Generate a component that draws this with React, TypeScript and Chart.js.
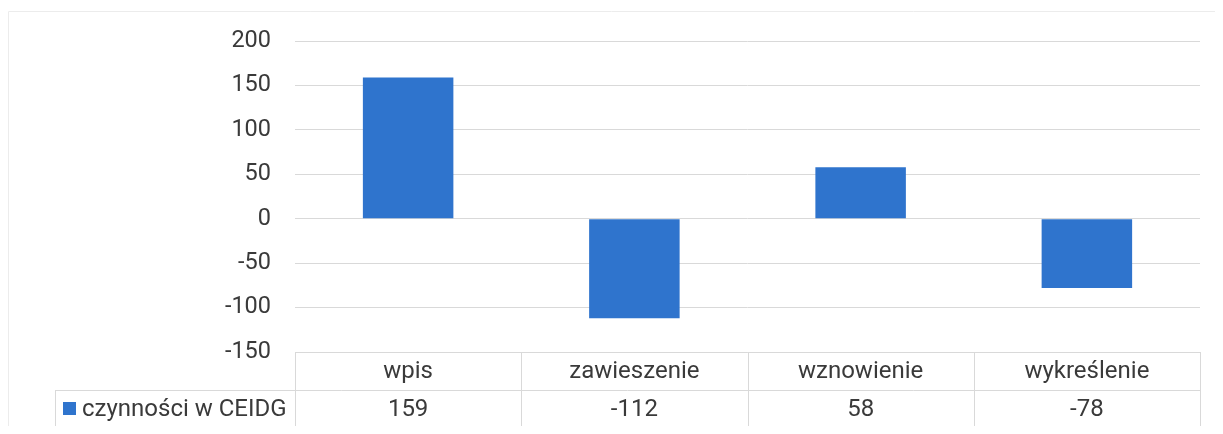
import React, { useEffect, useRef } from "react";
import { Chart, registerables } from "chart.js";

Chart.register(...registerables);

const categories = ["wpis", "zawieszenie", "wznowienie", "wykreślenie"];
const seriesName = "czynności w CEIDG";
const values = [159, -112, 58, -78];
const yMin = -150;
const yMax = 200;
const yStep = 50;

const FONT = "Roboto, 'Noto Sans', sans-serif";
const TEXT = "#3a3a3a";
const GRID = "#d9d9d9";
const BAR = "#2F74CD";

const tablePlugin = {
  id: "dataTable",
  afterDraw(chart: any) {
    const { ctx, chartArea } = chart;
    const x = chart.scales.x;
    const n = categories.length;
    const colW = (chartArea.right - chartArea.left) / n;
    const top = chartArea.bottom;
    const rowH = 38;
    const mid = top + rowH;
    const bot = top + rowH * 2;
    const legendLeft = 47;
    ctx.save();
    // outer frame
    ctx.strokeStyle = "#ececec";
    ctx.lineWidth = 1;
    ctx.beginPath();
    ctx.moveTo(0.5, chart.height);
    ctx.lineTo(0.5, 3.5);
    ctx.lineTo(chart.width, 3.5);
    ctx.stroke();

    ctx.strokeStyle = GRID;
    ctx.beginPath();
    ctx.moveTo(chartArea.left, Math.round(top) + 0.5);
    ctx.lineTo(chartArea.right, Math.round(top) + 0.5);
    ctx.moveTo(legendLeft, Math.round(mid) + 0.5);
    ctx.lineTo(chartArea.right, Math.round(mid) + 0.5);
    ctx.moveTo(legendLeft, Math.round(bot) + 0.5);
    ctx.lineTo(chartArea.right, Math.round(bot) + 0.5);
    for (let i = 0; i <= n; i++) {
      const xx = Math.round(chartArea.left + colW * i) + 0.5;
      ctx.moveTo(xx, top);
      ctx.lineTo(xx, bot);
    }
    ctx.moveTo(legendLeft + 0.5, mid);
    ctx.lineTo(legendLeft + 0.5, bot);
    ctx.stroke();

    ctx.fillStyle = TEXT;
    ctx.font = `24px ${FONT}`;
    ctx.textAlign = "center";
    ctx.textBaseline = "middle";
    categories.forEach((c, i) => {
      const cx = x.getPixelForValue(i);
      ctx.fillText(c, cx, top + rowH / 2 + 1);
      ctx.fillText(String(values[i]), cx, mid + rowH / 2 + 1);
    });
    // legend cell
    ctx.fillStyle = BAR;
    ctx.fillRect(legendLeft + 8, mid + 12, 13, 13);
    ctx.fillStyle = TEXT;
    ctx.textAlign = "left";
    ctx.fillText(seriesName, legendLeft + 27, mid + rowH / 2 + 1);
    ctx.restore();
  },
};

export default function App() {
  const ref = useRef<HTMLCanvasElement>(null);
  useEffect(() => {
    if (!ref.current) return;
    const chart = new Chart(ref.current, {
      type: "bar",
      data: {
        labels: categories,
        datasets: [
          {
            label: seriesName,
            data: values,
            backgroundColor: BAR,
            barPercentage: 0.4,
            categoryPercentage: 1,
          },
        ],
      },
      options: {
        animation: false,
        responsive: false,
        layout: { padding: { left: 0, top: 33, right: 15, bottom: 74 } },
        plugins: { legend: { display: false }, tooltip: { enabled: false } },
        scales: {
          x: { display: false },
          y: {
            min: yMin,
            max: yMax,
            afterFit: (s: any) => {
              s.width = 287;
              s.paddingTop = 0;
              s.paddingBottom = 0;
            },
            ticks: {
              stepSize: yStep,
              color: TEXT,
              padding: 24,
              font: { family: FONT, size: 23.5 },
            },
            grid: { color: GRID, drawTicks: false },
            border: { display: false },
          },
        },
      },
      plugins: [tablePlugin],
    });
    return () => chart.destroy();
  }, []);
  return (
    <div style={{ width: 1207, height: 418 }}>
      <canvas ref={ref} width={1207} height={418} style={{ width: 1207, height: 418, display: "block" }} />
    </div>
  );
}
